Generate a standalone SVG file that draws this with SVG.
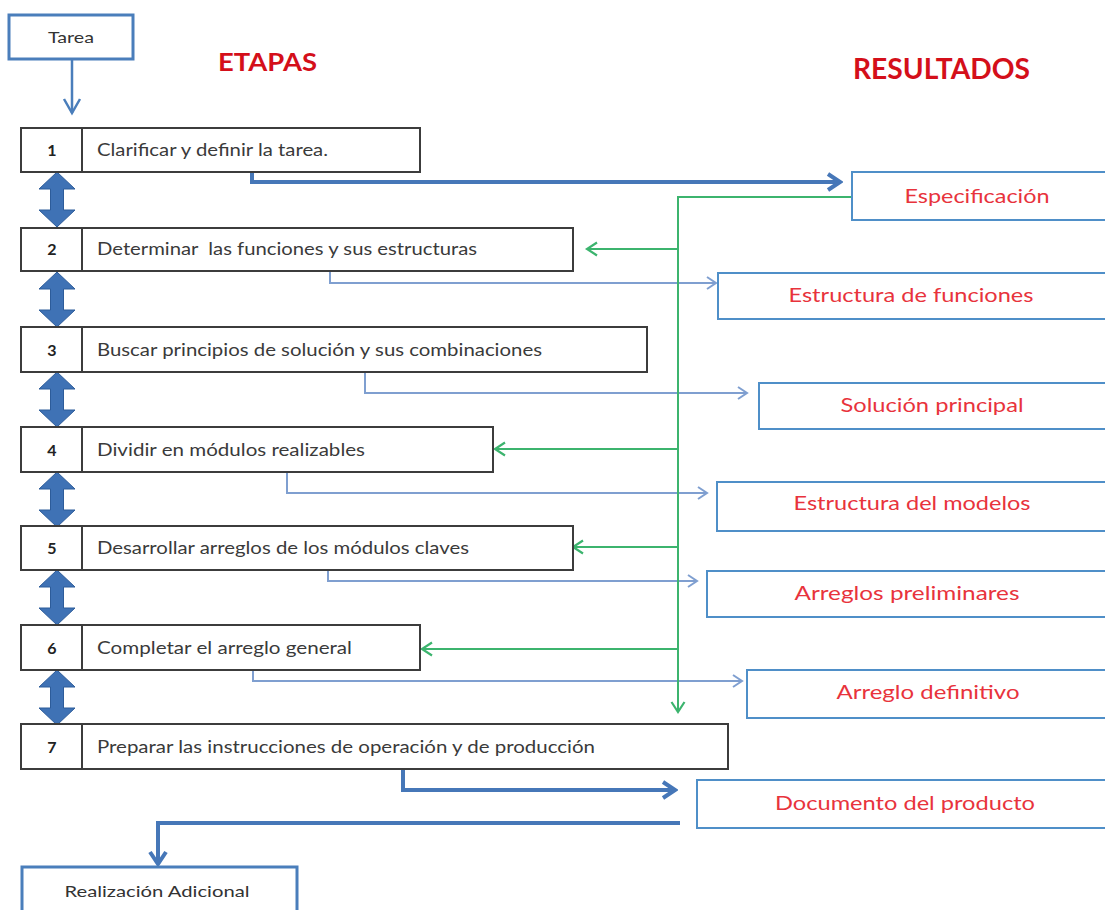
<svg xmlns="http://www.w3.org/2000/svg" width="1105" height="910" viewBox="0 0 1105 910">
<style>
.stage{fill:#fff;stroke:#3c3c3c;stroke-width:2}
.res{fill:#fff;stroke:#4f8fc8;stroke-width:2}
.term{fill:#fff;stroke:#4a7ebb;stroke-width:3}
.st{font-family:Lato,"Liberation Sans",Arial,sans-serif;font-size:17px;fill:#3a3a3a}
.num{font-family:Lato,"Liberation Sans",Arial,sans-serif;font-size:16px;font-weight:bold;fill:#222;text-anchor:middle}
.rt{font-family:Lato,"Liberation Sans",Arial,sans-serif;font-size:19px;fill:#e8333c;text-anchor:middle}
.tt{font-family:Lato,"Liberation Sans",Arial,sans-serif;font-size:15px;fill:#333;text-anchor:middle}
.title{font-family:Lato,"Liberation Sans",Arial,sans-serif;font-weight:bold;fill:#d40f1a}
.thick{fill:none;stroke:#4677b8;stroke-width:4}
.thin{fill:none;stroke:#7f9fd0;stroke-width:2}
.green{fill:none;stroke:#3cb46e;stroke-width:2}
.dbl{fill:#3f72b5;stroke:#2d5c9a;stroke-width:1}
</style>
<defs>
<marker id="mThick" markerUnits="userSpaceOnUse" markerWidth="18" markerHeight="20" refX="15" refY="10" orient="auto">
<path d="M3,2 L15,10 L3,18" fill="none" stroke="#4677b8" stroke-width="4"/>
</marker>
<marker id="mTarea" markerUnits="userSpaceOnUse" markerWidth="20" markerHeight="20" refX="16" refY="10" orient="auto">
<path d="M2,2 L16,10 L2,18" fill="none" stroke="#4a7ebb" stroke-width="2.5"/>
</marker>
<marker id="mThin" markerUnits="userSpaceOnUse" markerWidth="14" markerHeight="16" refX="12" refY="8" orient="auto">
<path d="M3,2 L12,8 L3,14" fill="none" stroke="#7f9fd0" stroke-width="2"/>
</marker>
<marker id="mGreen" markerUnits="userSpaceOnUse" markerWidth="16" markerHeight="16" refX="13" refY="8" orient="auto">
<path d="M3,1.5 L13,8 L3,14.5" fill="none" stroke="#3cb46e" stroke-width="2.2"/>
</marker>
<path id="dblArrow" class="dbl" d="M0,0 L18,17 L6.5,17 L6.5,38 L18,38 L0,55 L-18,38 L-6.5,38 L-6.5,17 L-18,17 Z"/>
</defs>

<g id="titles">
<text class="title" x="218" y="71" font-size="25" textLength="99" lengthAdjust="spacingAndGlyphs">ETAPAS</text>
<text class="title" x="853" y="79" font-size="28" textLength="177" lengthAdjust="spacingAndGlyphs">RESULTADOS</text>
</g>

<g id="connectors">
<line x1="72" y1="59" x2="72" y2="113" stroke="#4a7ebb" stroke-width="2.5" marker-end="url(#mTarea)"/>
<polyline class="thick" points="252,172 252,182 840,182" marker-end="url(#mThick)"/>
<polyline class="thin" points="330,271 330,283 716,283" marker-end="url(#mThin)"/>
<polyline class="thin" points="365,372 365,393 747,393" marker-end="url(#mThin)"/>
<polyline class="thin" points="287,472 287,493 707,493" marker-end="url(#mThin)"/>
<polyline class="thin" points="328,570 328,581 697,581" marker-end="url(#mThin)"/>
<polyline class="thin" points="253,670 253,681 742,681" marker-end="url(#mThin)"/>
<polyline class="thick" points="403,769 403,790 675,790" marker-end="url(#mThick)"/>
<polyline class="thick" points="680,823 158,823 158,864" marker-end="url(#mThick)"/>
<polyline class="green" points="852,197 678,197 678,712" marker-end="url(#mGreen)"/>
<line class="green" x1="678" y1="249" x2="587" y2="249" marker-end="url(#mGreen)"/>
<line class="green" x1="678" y1="449" x2="495" y2="449" marker-end="url(#mGreen)"/>
<line class="green" x1="678" y1="547" x2="573" y2="547" marker-end="url(#mGreen)"/>
<line class="green" x1="678" y1="649" x2="422" y2="649" marker-end="url(#mGreen)"/>
<use href="#dblArrow" x="57" y="172"/>
<use href="#dblArrow" x="57" y="272"/>
<use href="#dblArrow" x="57" y="372"/>
<use href="#dblArrow" x="57" y="472"/>
<use href="#dblArrow" x="57" y="570"/>
<use href="#dblArrow" x="57" y="670"/>
</g>

<g id="tarea">
<rect class="term" x="9" y="15" width="124" height="44"/>
<text class="tt" x="71" y="43" textLength="46" lengthAdjust="spacingAndGlyphs">Tarea</text>
</g>

<g id="etapa1">
<rect class="stage" x="21" y="128" width="399" height="44"/>
<line x1="82" y1="128" x2="82" y2="172" stroke="#3c3c3c" stroke-width="2"/>
<text class="num" x="52" y="156">1</text>
<text class="st" x="97" y="156" textLength="231" lengthAdjust="spacingAndGlyphs">Clarificar y definir la tarea.</text>
</g>
<g id="etapa2">
<rect class="stage" x="21" y="228" width="552" height="43"/>
<line x1="82" y1="228" x2="82" y2="271" stroke="#3c3c3c" stroke-width="2"/>
<text class="num" x="52" y="255">2</text>
<text class="st" x="97" y="255" textLength="380" lengthAdjust="spacingAndGlyphs" xml:space="preserve">Determinar  las funciones y sus estructuras</text>
</g>
<g id="etapa3">
<rect class="stage" x="21" y="327" width="626" height="45"/>
<line x1="82" y1="327" x2="82" y2="372" stroke="#3c3c3c" stroke-width="2"/>
<text class="num" x="52" y="356">3</text>
<text class="st" x="97" y="356" textLength="445" lengthAdjust="spacingAndGlyphs">Buscar principios de solución y sus combinaciones</text>
</g>
<g id="etapa4">
<rect class="stage" x="21" y="427" width="472" height="45"/>
<line x1="82" y1="427" x2="82" y2="472" stroke="#3c3c3c" stroke-width="2"/>
<text class="num" x="52" y="456">4</text>
<text class="st" x="97" y="456" textLength="268" lengthAdjust="spacingAndGlyphs">Dividir en módulos realizables</text>
</g>
<g id="etapa5">
<rect class="stage" x="21" y="526" width="552" height="44"/>
<line x1="82" y1="526" x2="82" y2="570" stroke="#3c3c3c" stroke-width="2"/>
<text class="num" x="52" y="554">5</text>
<text class="st" x="97" y="554" textLength="372" lengthAdjust="spacingAndGlyphs">Desarrollar arreglos de los módulos claves</text>
</g>
<g id="etapa6">
<rect class="stage" x="21" y="625" width="399" height="45"/>
<line x1="82" y1="625" x2="82" y2="670" stroke="#3c3c3c" stroke-width="2"/>
<text class="num" x="52" y="654">6</text>
<text class="st" x="97" y="654" textLength="255" lengthAdjust="spacingAndGlyphs">Completar el arreglo general</text>
</g>
<g id="etapa7">
<rect class="stage" x="21" y="724" width="707" height="45"/>
<line x1="82" y1="724" x2="82" y2="769" stroke="#3c3c3c" stroke-width="2"/>
<text class="num" x="52" y="753">7</text>
<text class="st" x="97" y="753" textLength="498" lengthAdjust="spacingAndGlyphs">Preparar las instrucciones de operación y de producción</text>
</g>

<g id="especificacion">
<rect class="res" x="852" y="172" width="260" height="48"/>
<text class="rt" x="977" y="203" textLength="145" lengthAdjust="spacingAndGlyphs">Especificación</text>
</g>
<g id="estructura-funciones">
<rect class="res" x="718" y="273" width="394" height="46"/>
<text class="rt" x="911" y="302" textLength="245" lengthAdjust="spacingAndGlyphs">Estructura de funciones</text>
</g>
<g id="solucion-principal">
<rect class="res" x="759" y="383" width="353" height="46"/>
<text class="rt" x="932" y="412" textLength="183" lengthAdjust="spacingAndGlyphs">Solución principal</text>
</g>
<g id="estructura-modelos">
<rect class="res" x="717" y="482" width="395" height="49"/>
<text class="rt" x="912" y="510" textLength="237" lengthAdjust="spacingAndGlyphs">Estructura del modelos</text>
</g>
<g id="arreglos-preliminares">
<rect class="res" x="707" y="571" width="405" height="46"/>
<text class="rt" x="907" y="600" textLength="225" lengthAdjust="spacingAndGlyphs">Arreglos preliminares</text>
</g>
<g id="arreglo-definitivo">
<rect class="res" x="747" y="670" width="365" height="48"/>
<text class="rt" x="928" y="699" textLength="183" lengthAdjust="spacingAndGlyphs">Arreglo definitivo</text>
</g>
<g id="documento-producto">
<rect class="res" x="697" y="780" width="415" height="48"/>
<text class="rt" x="905" y="810" textLength="260" lengthAdjust="spacingAndGlyphs">Documento del producto</text>
</g>

<g id="realizacion">
<rect class="term" x="22" y="867" width="275" height="50"/>
<text class="tt" x="157" y="897" textLength="185" lengthAdjust="spacingAndGlyphs">Realización Adicional</text>
</g>
</svg>
